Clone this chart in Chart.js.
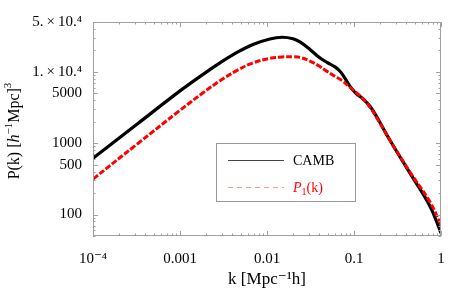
<!DOCTYPE html>
<html>
<head>
<meta charset="utf-8">
<script src="https://cdn.jsdelivr.net/npm/chart.js@4"></script>
<style>
  html, body { margin: 0; padding: 0; background: #fff; }
  #wrap { width: 471px; height: 294px; }
</style>
</head>
<body>
<div id="wrap"><canvas id="pk"></canvas></div>
<script>
// wavenumbers k [h/Mpc] shared by both curves
const kValues = [1e-4, 3.2e-4, 1e-3, 1.84e-3, 2.88e-3, 4.52e-3, 6.9e-3, 0.0108, 0.0149,
  0.0199, 0.0239, 0.0312, 0.0386, 0.0489, 0.0605, 0.0709, 0.090, 0.1054, 0.1269,
  0.1527, 0.1838, 0.259, 0.44, 0.747, 1];

// CAMB power spectrum
const cambP = [617, 1844, 5410, 9230, 13360, 18740, 24240, 28940, 30570,
  29130, 26280, 20640, 16470, 13580, 11750, 9840, 6270, 5000, 4190,
  3290, 2310, 1100, 380, 131, 55];

// P1(k) fit
const p1P = [314, 968, 2890, 5085, 7480, 10500, 13360, 15450, 16160,
  16260, 15950, 14160, 12330, 10160, 8650, 7730, 6070, 5170, 4190,
  3190, 2240, 1100, 393, 150, 71];

const xTickValues = [1e-4, 1e-3, 0.01, 0.1, 1];
const xTickLabels = ['10\u207B\u2074', '0.001', '0.01', '0.1', '1'];
const yTickValues = [100, 500, 1000, 5000, 1e4, 5e4];
const yTickLabels = ['100', '500', '1000', '5000', '1.\u2009\u00D7\u200910.\u2074', '5.\u2009\u00D7\u200910.\u2074'];

const serif = '"Liberation Serif", "DejaVu Serif", serif';

function minorTicks(min, max) {
  const out = [];
  for (let e = Math.floor(Math.log10(min)); e <= Math.ceil(Math.log10(max)); e++) {
    for (let m = 1; m < 10; m++) {
      const v = m * Math.pow(10, e);
      if (v >= min * 0.999 && v <= max * 1.001) out.push(v);
    }
  }
  return out;
}

// frame with inward ticks on all four sides
const framePlugin = {
  id: 'frame',
  afterDatasetsDraw(chart) {
    const { ctx, chartArea: a, scales } = chart;
    const xs = scales.x, ys = scales.y;
    ctx.save();
    ctx.strokeStyle = '#a0a0a0';
    ctx.lineWidth = 1;
    ctx.strokeRect(a.left + 0.5, a.top + 0.5, a.right - a.left - 1, a.bottom - a.top - 1);
    ctx.beginPath();
    minorTicks(xs.min, xs.max).forEach(v => {
      const major = xTickValues.some(t => Math.abs(t - v) / t < 1e-6);
      const len = major ? 5 : 2.5;
      const px = Math.round(xs.getPixelForValue(v)) + 0.5;
      ctx.moveTo(px, a.bottom); ctx.lineTo(px, a.bottom - len);
      ctx.moveTo(px, a.top); ctx.lineTo(px, a.top + len);
    });
    minorTicks(ys.min, ys.max).forEach(v => {
      const major = yTickValues.some(t => Math.abs(t - v) / t < 1e-6);
      const len = major ? 5 : 2.5;
      const py = Math.round(ys.getPixelForValue(v)) + 0.5;
      ctx.moveTo(a.left, py); ctx.lineTo(a.left + len, py);
      ctx.moveTo(a.right, py); ctx.lineTo(a.right - len, py);
    });
    ctx.stroke();
    ctx.restore();
  }
};

// boxed legend inside the plot
const legendBox = {
  id: 'legendBox',
  afterDraw(chart) {
    const ctx = chart.ctx;
    const x0 = 216, y0 = 143, w = 139, h = 58;
    ctx.save();
    ctx.fillStyle = '#fff';
    ctx.fillRect(x0, y0, w, h);
    ctx.strokeStyle = '#999';
    ctx.lineWidth = 1;
    ctx.strokeRect(x0 + 0.5, y0 + 0.5, w, h);

    ctx.strokeStyle = '#444';
    ctx.beginPath();
    ctx.moveTo(228, 160.5); ctx.lineTo(284, 160.5);
    ctx.stroke();

    ctx.strokeStyle = 'rgba(255,80,80,0.6)';
    ctx.setLineDash([5, 4]);
    ctx.beginPath();
    ctx.moveTo(228, 187.5); ctx.lineTo(284, 187.5);
    ctx.stroke();
    ctx.setLineDash([]);

    ctx.textBaseline = 'middle';
    ctx.fillStyle = '#000';
    ctx.font = '14px ' + serif;
    ctx.fillText('CAMB', 293, 161);

    ctx.fillStyle = '#f00';
    ctx.font = 'italic 14px ' + serif;
    ctx.fillText('P', 293, 188);
    let px = 293 + ctx.measureText('P').width;
    ctx.font = '10px ' + serif;
    ctx.fillText('1', px, 192);
    px += ctx.measureText('1').width;
    ctx.font = '14px ' + serif;
    ctx.fillText('(k)', px, 188);
    ctx.restore();
  }
};

// y axis title with italic h
const yTitle = {
  id: 'yTitle',
  afterDraw(chart) {
    const ctx = chart.ctx;
    const parts = [
      ['16px', 'P(k) [', 0], ['italic 16px', 'h', 0], ['11px', '\u22121', -6],
      ['16px', 'Mpc]', 0], ['11px', '3', -7]
    ];
    ctx.save();
    let total = 0;
    parts.forEach(p => { ctx.font = p[0] + ' ' + serif; total += ctx.measureText(p[1]).width; });
    ctx.translate(14, 131);
    ctx.rotate(-Math.PI / 2);
    ctx.fillStyle = '#000';
    ctx.textBaseline = 'middle';
    let x = -total / 2;
    parts.forEach(p => {
      ctx.font = p[0] + ' ' + serif;
      ctx.fillText(p[1], x, 1 + p[2]);
      x += ctx.measureText(p[1]).width;
    });
    ctx.restore();
  }
};

new Chart(document.getElementById('pk'), {
  type: 'line',
  data: {
    datasets: [
      {
        label: 'P1(k)',
        data: kValues.map((k, i) => ({ x: k, y: p1P[i] })),
        borderColor: '#f00',
        borderWidth: 3,
        borderDash: [6, 2],
        pointRadius: 0,
        tension: 0.4,
        order: 0
      },
      {
        label: 'CAMB',
        data: kValues.map((k, i) => ({ x: k, y: cambP[i] })),
        borderColor: '#000',
        borderWidth: 3.2,
        pointRadius: 0,
        tension: 0.4,
        order: 1
      }
    ]
  },
  options: {
    responsive: true,
    maintainAspectRatio: false,
    animation: false,
    layout: { padding: { top: 22, right: 30, left: 0, bottom: 0 } },
    plugins: { legend: { display: false }, tooltip: { enabled: false } },
    scales: {
      x: {
        type: 'logarithmic',
        min: 1e-4,
        max: 1,
        afterBuildTicks: s => { s.ticks = xTickValues.map(v => ({ value: v })); },
        afterFit: s => { s.height = 58; },
        grid: { display: false },
        border: { display: false },
        ticks: {
          autoSkip: false,
          maxRotation: 0,
          padding: 6,
          color: '#000',
          font: { family: serif, size: 15 },
          callback: (v, i) => xTickLabels[i]
        },
        title: {
          display: true,
          text: 'k [Mpc\u207B\u00B9h]',
          color: '#000',
          font: { family: serif, size: 17 },
          padding: { top: 2, bottom: 4 }
        }
      },
      y: {
        type: 'logarithmic',
        min: 50,
        max: 5e4,
        afterBuildTicks: s => { s.ticks = yTickValues.map(v => ({ value: v })); },
        afterFit: s => { s.width = 93; },
        grid: { display: false },
        border: { display: false },
        ticks: {
          autoSkip: false,
          padding: 3,
          color: '#000',
          font: { family: serif, size: 15 },
          callback: (v, i) => yTickLabels[i]
        }
      }
    }
  },
  plugins: [framePlugin, legendBox, yTitle]
});
</script>
</body>
</html>
